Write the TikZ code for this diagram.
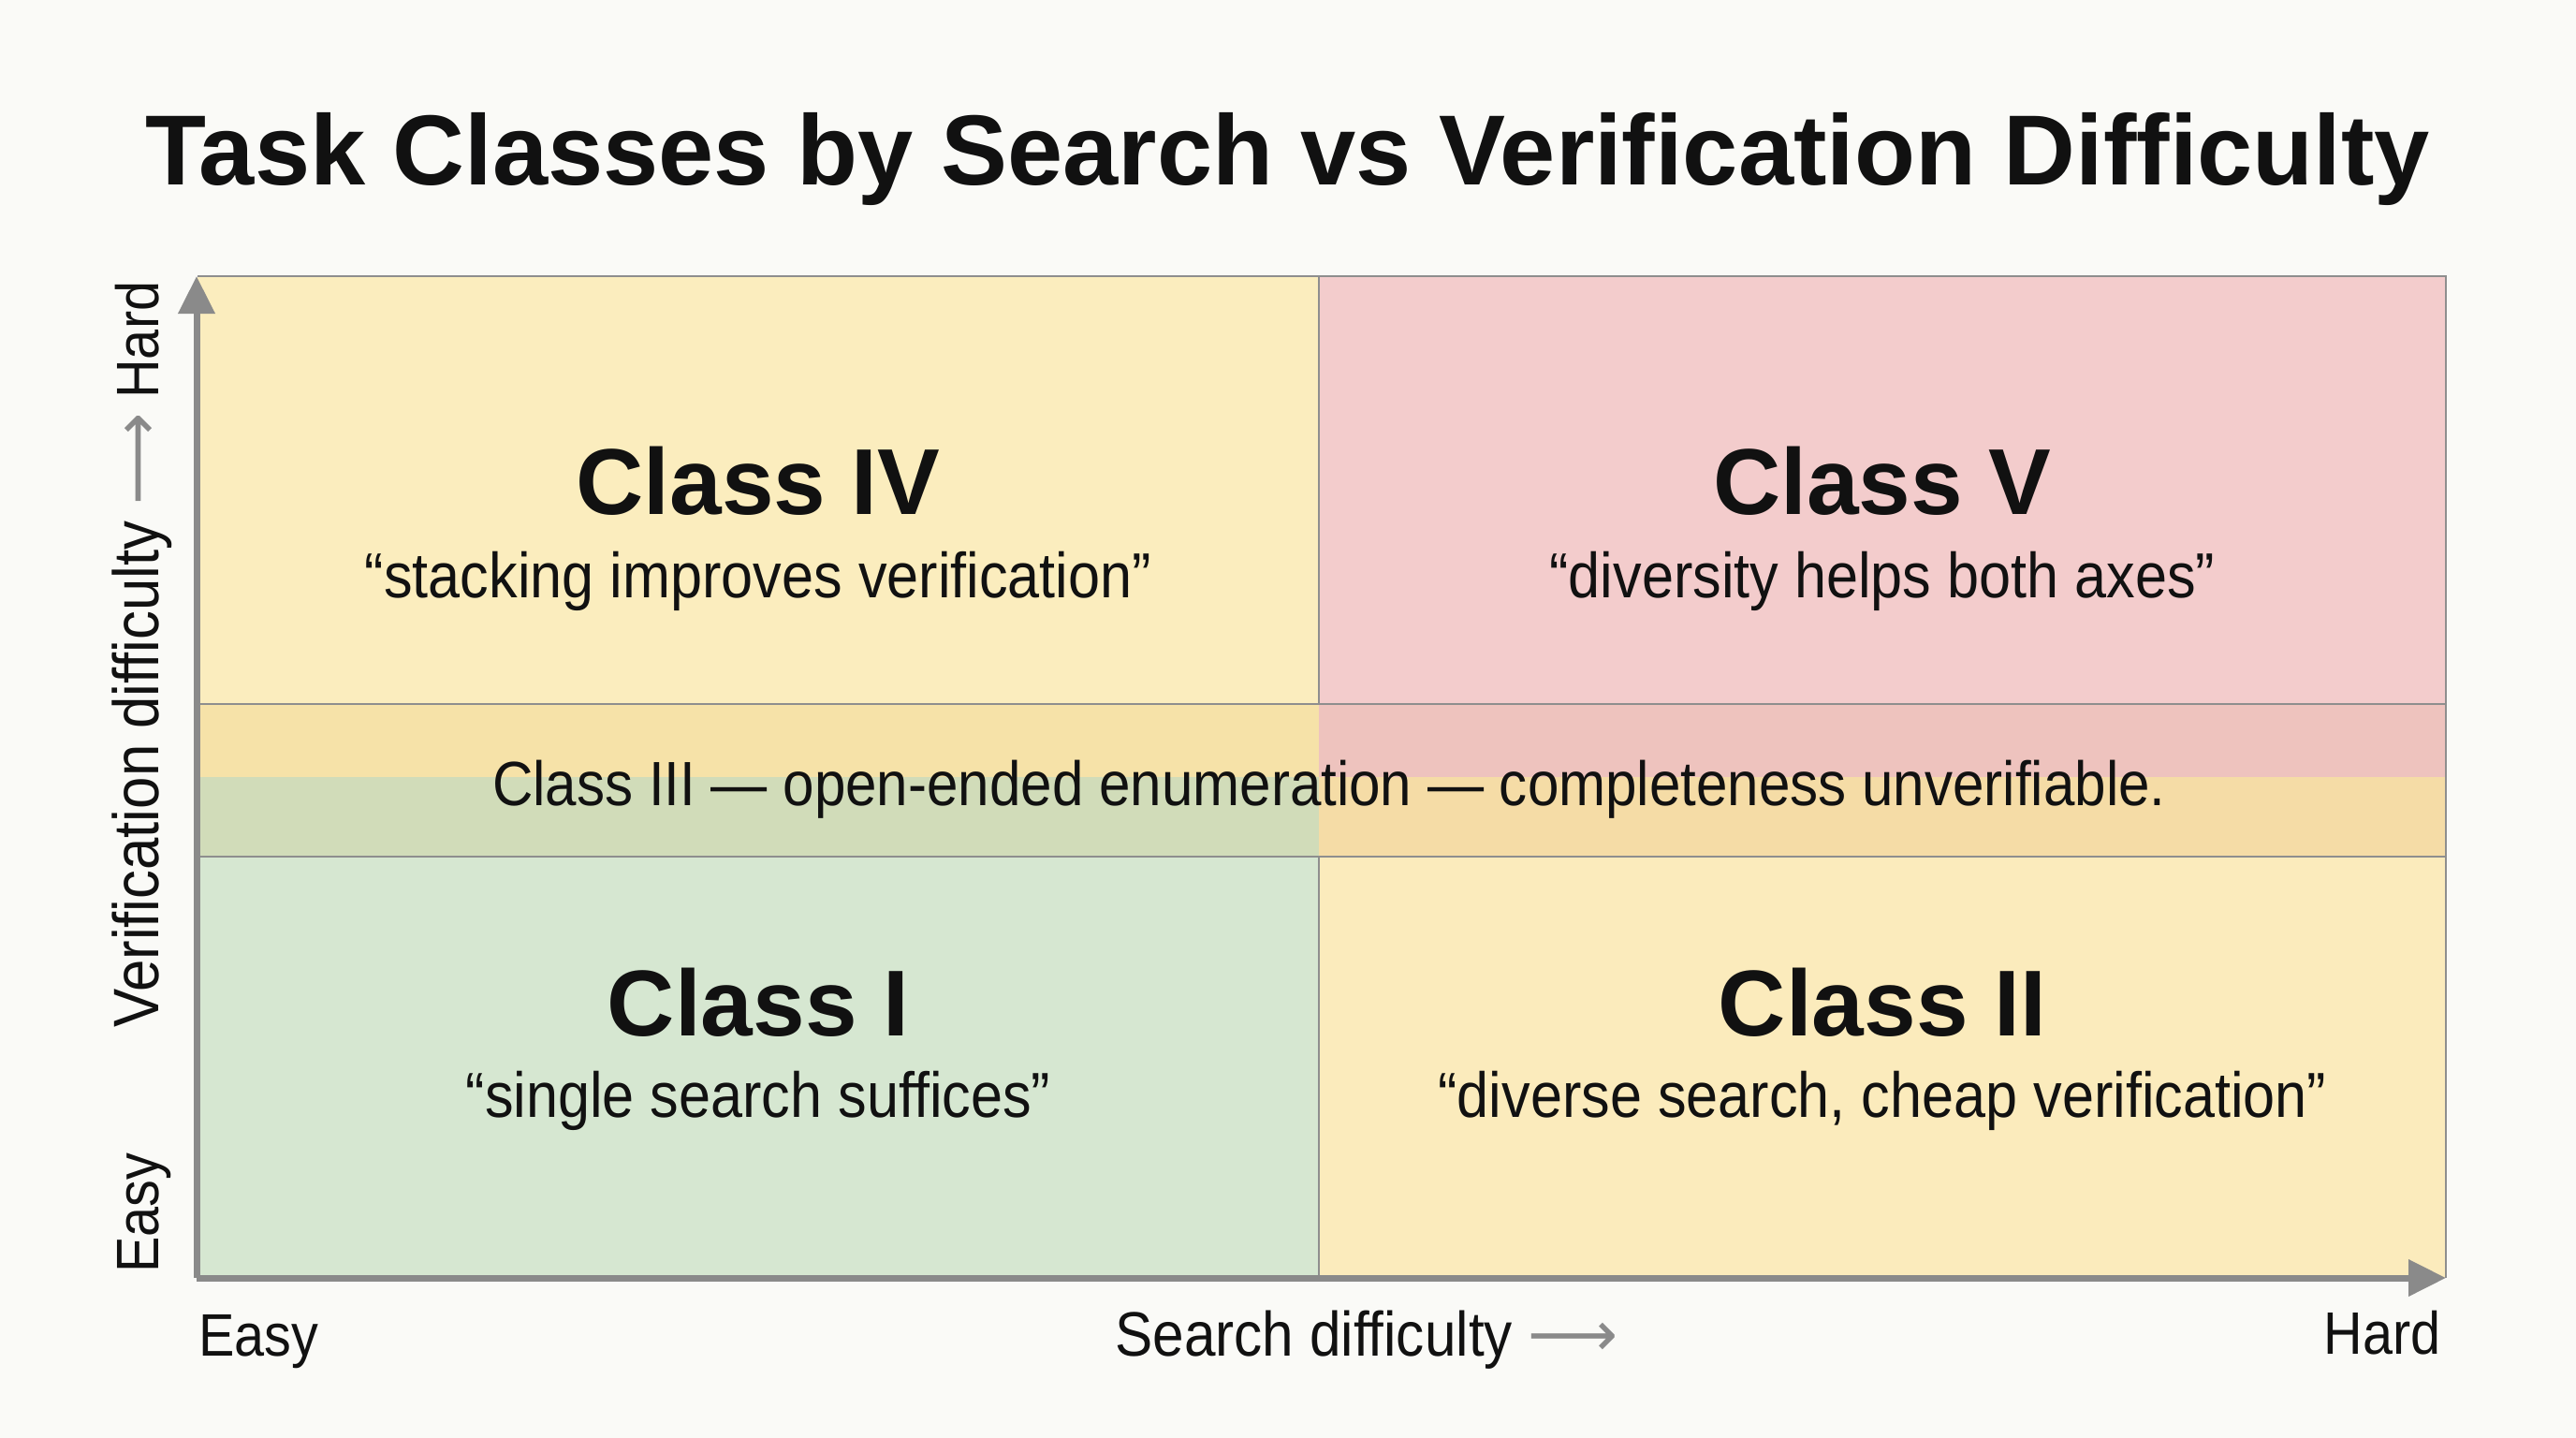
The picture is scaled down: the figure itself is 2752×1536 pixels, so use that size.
\documentclass[tikz,border=0pt]{standalone}
\usepackage{fontspec}
\setmainfont{Liberation Sans}
\newfontfamily\narrowfont[FakeStretch=0.9]{Liberation Sans}
\newfontfamily\arrowfont{DejaVu Sans}
\usetikzlibrary{arrows.meta}
\definecolor{bg}{HTML}{FAFAF7}
\definecolor{qIV}{HTML}{FBEDBE}
\definecolor{qV}{HTML}{F3CCCC}
\definecolor{qI}{HTML}{D6E7D1}
\definecolor{qII}{HTML}{FBEBBC}
\definecolor{bUL}{HTML}{F6E2A8}
\definecolor{bUR}{HTML}{EEC3BE}
\definecolor{bLL}{HTML}{D1DCB9}
\definecolor{bLR}{HTML}{F5DCA6}
\definecolor{gridgray}{HTML}{8E8E8E}
\definecolor{axgray}{HTML}{8A8A8A}
\definecolor{txt}{HTML}{111111}
\newcommand{\longarr}{\textcolor{axgray}{\arrowfont\symbol{"27F6}}}
\begin{document}
\begin{tikzpicture}[x=0.5pt,y=-0.5pt,
  titlestyle/.style={inner sep=0pt,anchor=base,text=txt,font=\fontsize{53.2pt}{60pt}\selectfont\bfseries},
  clsstyle/.style={inner sep=0pt,anchor=base,text=txt,font=\fontsize{50pt}{58pt}\selectfont\bfseries},
  quotestyle/.style={inner sep=0pt,anchor=base,text=txt,font=\fontsize{34pt}{40pt}\narrowfont},
  bandstyle/.style={inner sep=0pt,anchor=base,text=txt,font=\fontsize{33.4pt}{40pt}\narrowfont},
  axlabel/.style={inner sep=0pt,text=txt,font=\fontsize{32pt}{38pt}\narrowfont},
  axtitle/.style={inner sep=0pt,text=txt,font=\fontsize{#1}{38pt}\narrowfont},
  gridline/.style={draw=gridgray,line width=1pt},
  axisline/.style={draw=axgray,line width=3.5pt,-{Triangle[length=20pt,width=19pt]}}
]
\useasboundingbox (0,0) rectangle (2752,1536);
\fill[bg] (0,0) rectangle (2752,1536);
% quadrants
\fill[qIV] (211,295) rectangle (1409,830);
\fill[qV] (1409,295) rectangle (2613,830);
\fill[qI] (211,830) rectangle (1409,1365);
\fill[qII] (1409,830) rectangle (2613,1365);
% class III band
\fill[bUL] (211,752) rectangle (1409,830);
\fill[bUR] (1409,752) rectangle (2613,830);
\fill[bLL] (211,830) rectangle (1409,915);
\fill[bLR] (1409,830) rectangle (2613,915);
% grid lines
\draw[gridline] (211,295) -- (2613,295) -- (2613,1365);
\draw[gridline] (211,752) -- (2613,752);
\draw[gridline] (211,915) -- (2613,915);
\draw[gridline] (1409,295) -- (1409,752);
\draw[gridline] (1409,915) -- (1409,1365);
% axes
\coordinate (origin) at (210,1365);
\coordinate (xend) at (2613,1365);
\coordinate (yend) at (210,295);
\draw[axisline] (origin) -- (xend);
\draw[axisline] (origin) -- (yend);
% title
\node[titlestyle] (title) at (1376,198) {Task Classes by Search vs Verification Difficulty};
% quadrant texts
\node[clsstyle] (c4) at (810,549) {Class IV};
\node[quotestyle] (q4) at (810,638) {“stacking improves verification”};
\node[clsstyle] (c5) at (2011,549) {Class V};
\node[quotestyle] (q5) at (2011,638) {“diversity helps both axes”};
\node[clsstyle] (c1) at (810,1106) {Class I};
\node[quotestyle] (q1) at (810,1193) {“single search suffices”};
\node[clsstyle] (c2) at (2011,1106) {Class II};
\node[quotestyle] (q2) at (2011,1193) {“diverse search, cheap verification”};
\node[bandstyle] (c3) at (1420,860) {Class III — open-ended enumeration — completeness unverifiable.};
% axis labels
\node[axlabel,anchor=base west] (xeasy) at (212,1448) {Easy};
\node[axtitle=33.5pt,anchor=base west] (xlab) at (1191,1448) {Search difficulty \longarr};
\node[axlabel,anchor=base east] (xhard) at (2608,1446) {Hard};
\node[axlabel,anchor=base west,rotate=90] (yeasy) at (169,1360) {Easy};
\node[axtitle=34.3pt,anchor=base west,rotate=90] (ylab) at (169,1098) {Verification difficulty \longarr};
\node[axlabel,anchor=base west,rotate=90] (yhard) at (169,426) {Hard};
\end{tikzpicture}
\end{document}
